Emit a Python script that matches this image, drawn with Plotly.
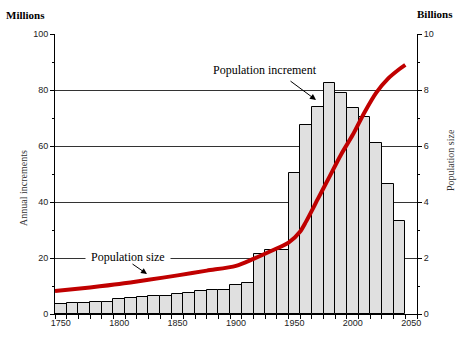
import plotly.graph_objects as go

# Data
decades = list(range(1750, 2050, 10))
increments = [3.6, 3.9, 3.9, 4.3, 4.3, 5.4, 5.7, 6.1, 6.3, 6.3,
              7.0, 7.4, 8.2, 8.6, 8.6, 10.2, 10.9, 21.3, 22.9, 22.9,
              50.2, 67.5, 74.0, 82.6, 78.8, 73.7, 70.5, 61.2, 46.4, 33.3]
pop_years = [1745, 1775, 1800, 1825, 1850, 1875, 1900, 1915, 1930, 1945,
             1955, 1960, 1970, 1980, 1990, 2000, 2010, 2020, 2030, 2040, 2045]
pop_size = [0.82, 0.95, 1.07, 1.22, 1.38, 1.55, 1.72, 1.97, 2.25, 2.55,
            2.95, 3.30, 4.10, 4.90, 5.70, 6.40, 7.20, 7.90, 8.40, 8.75, 8.90]
x_ticks = [1750, 1800, 1850, 1900, 1950, 2000, 2050]
left_ticks = [0, 20, 40, 60, 80, 100]
right_ticks = [0, 2, 4, 6, 8, 10]

serif = "Liberation Serif"
sans = "Liberation Sans"

L, R, T, B = 55, 417, 34, 314
W, H = R - L, B - T


def px(xp):
    return (xp - L) / W


def py(yp):
    return (B - yp) / H


def xd(xp):
    return 1745 + (xp - L) / W * 310


def yd(yp):
    return (B - yp) / H * 100


fig = go.Figure()
fig.add_trace(go.Bar(
    x=decades, y=increments, width=10,
    marker=dict(color="#e0e0e0", line=dict(color="black", width=1)),
    showlegend=False, hoverinfo="skip"))
fig.add_trace(go.Scatter(
    x=pop_years, y=pop_size, yaxis="y2", mode="lines",
    line=dict(color="#c00000", width=4, shape="spline", smoothing=0.8),
    showlegend=False, hoverinfo="skip"))

fig.update_layout(
    width=468, height=344,
    margin=dict(l=L, r=468 - R, t=T, b=344 - B),
    paper_bgcolor="white", plot_bgcolor="white",
    bargap=0,
    xaxis=dict(range=[1745, 2055], tickvals=x_ticks, ticktext=[str(t) for t in x_ticks],
               ticks="", showgrid=False, zeroline=False,
               showline=True, linecolor="black", linewidth=1,
               tickfont=dict(family=sans, size=9, color="#222"),
               minor=dict(tick0=1745, dtick=10, ticks="outside", ticklen=4,
                          tickcolor="black", showgrid=False)),
    yaxis=dict(range=[0, 100], tickvals=left_ticks, ticks="outside", ticklen=4,
               tickcolor="black",
               showgrid=True, gridcolor="#333", gridwidth=1, zeroline=False,
               showline=True, linecolor="black", linewidth=1,
               tickfont=dict(family=sans, size=9, color="#222"),
               minor=dict(dtick=10, ticks="outside", ticklen=2, tickcolor="black", showgrid=False)),
    yaxis2=dict(range=[0, 10], tickvals=right_ticks, overlaying="y", side="right",
                ticks="outside", ticklen=4, tickcolor="black",
                showgrid=False, zeroline=False,
                showline=True, linecolor="black", linewidth=1,
                tickfont=dict(family=sans, size=9, color="#222"),
                minor=dict(dtick=1, ticks="outside", ticklen=2, tickcolor="black")),
    font=dict(family=serif, color="black"),
)

fig.add_annotation(x=px(4), y=py(15), xref="paper", yref="paper", text="<b>Millions</b>",
                   showarrow=False, xanchor="left", yanchor="middle",
                   font=dict(family=serif, size=11, color="black"))
fig.add_annotation(x=px(415), y=py(14), xref="paper", yref="paper", text="<b>Billions</b>",
                   showarrow=False, xanchor="left", yanchor="middle",
                   font=dict(family=serif, size=11, color="black"))
# axis titles
fig.add_annotation(x=px(23), y=py(188), xref="paper", yref="paper",
                   text="Annual increments", textangle=-90, showarrow=False,
                   xanchor="center", yanchor="middle",
                   font=dict(family=serif, size=10, color="#333"))
fig.add_annotation(x=px(450), y=py(160), xref="paper", yref="paper",
                   text="Population size", textangle=-90, showarrow=False,
                   xanchor="center", yanchor="middle",
                   font=dict(family=serif, size=10, color="#333"))
# Population increment label + arrow
fig.add_annotation(x=xd(265), y=yd(70), xref="x", yref="y",
                   text="Population increment", showarrow=False,
                   xanchor="center", yanchor="middle",
                   font=dict(family=serif, size=12, color="black"))
fig.add_annotation(x=xd(316), y=yd(100), ax=xd(289), ay=yd(80),
                   xref="x", yref="y", axref="x", ayref="y", text="",
                   showarrow=True, arrowhead=2, arrowsize=1.2, arrowwidth=1, arrowcolor="black")
# Population size label + arrow
fig.add_annotation(x=xd(128), y=yd(257), xref="x", yref="y",
                   text="Population size", showarrow=False, bgcolor="white", borderpad=5,
                   xanchor="center", yanchor="middle",
                   font=dict(family=serif, size=12, color="black"))
fig.add_annotation(x=xd(147), y=yd(274), ax=xd(131), ay=yd(263),
                   xref="x", yref="y", axref="x", ayref="y", text="",
                   showarrow=True, arrowhead=2, arrowsize=1.2, arrowwidth=1, arrowcolor="black")

fig.write_html("out.html")
